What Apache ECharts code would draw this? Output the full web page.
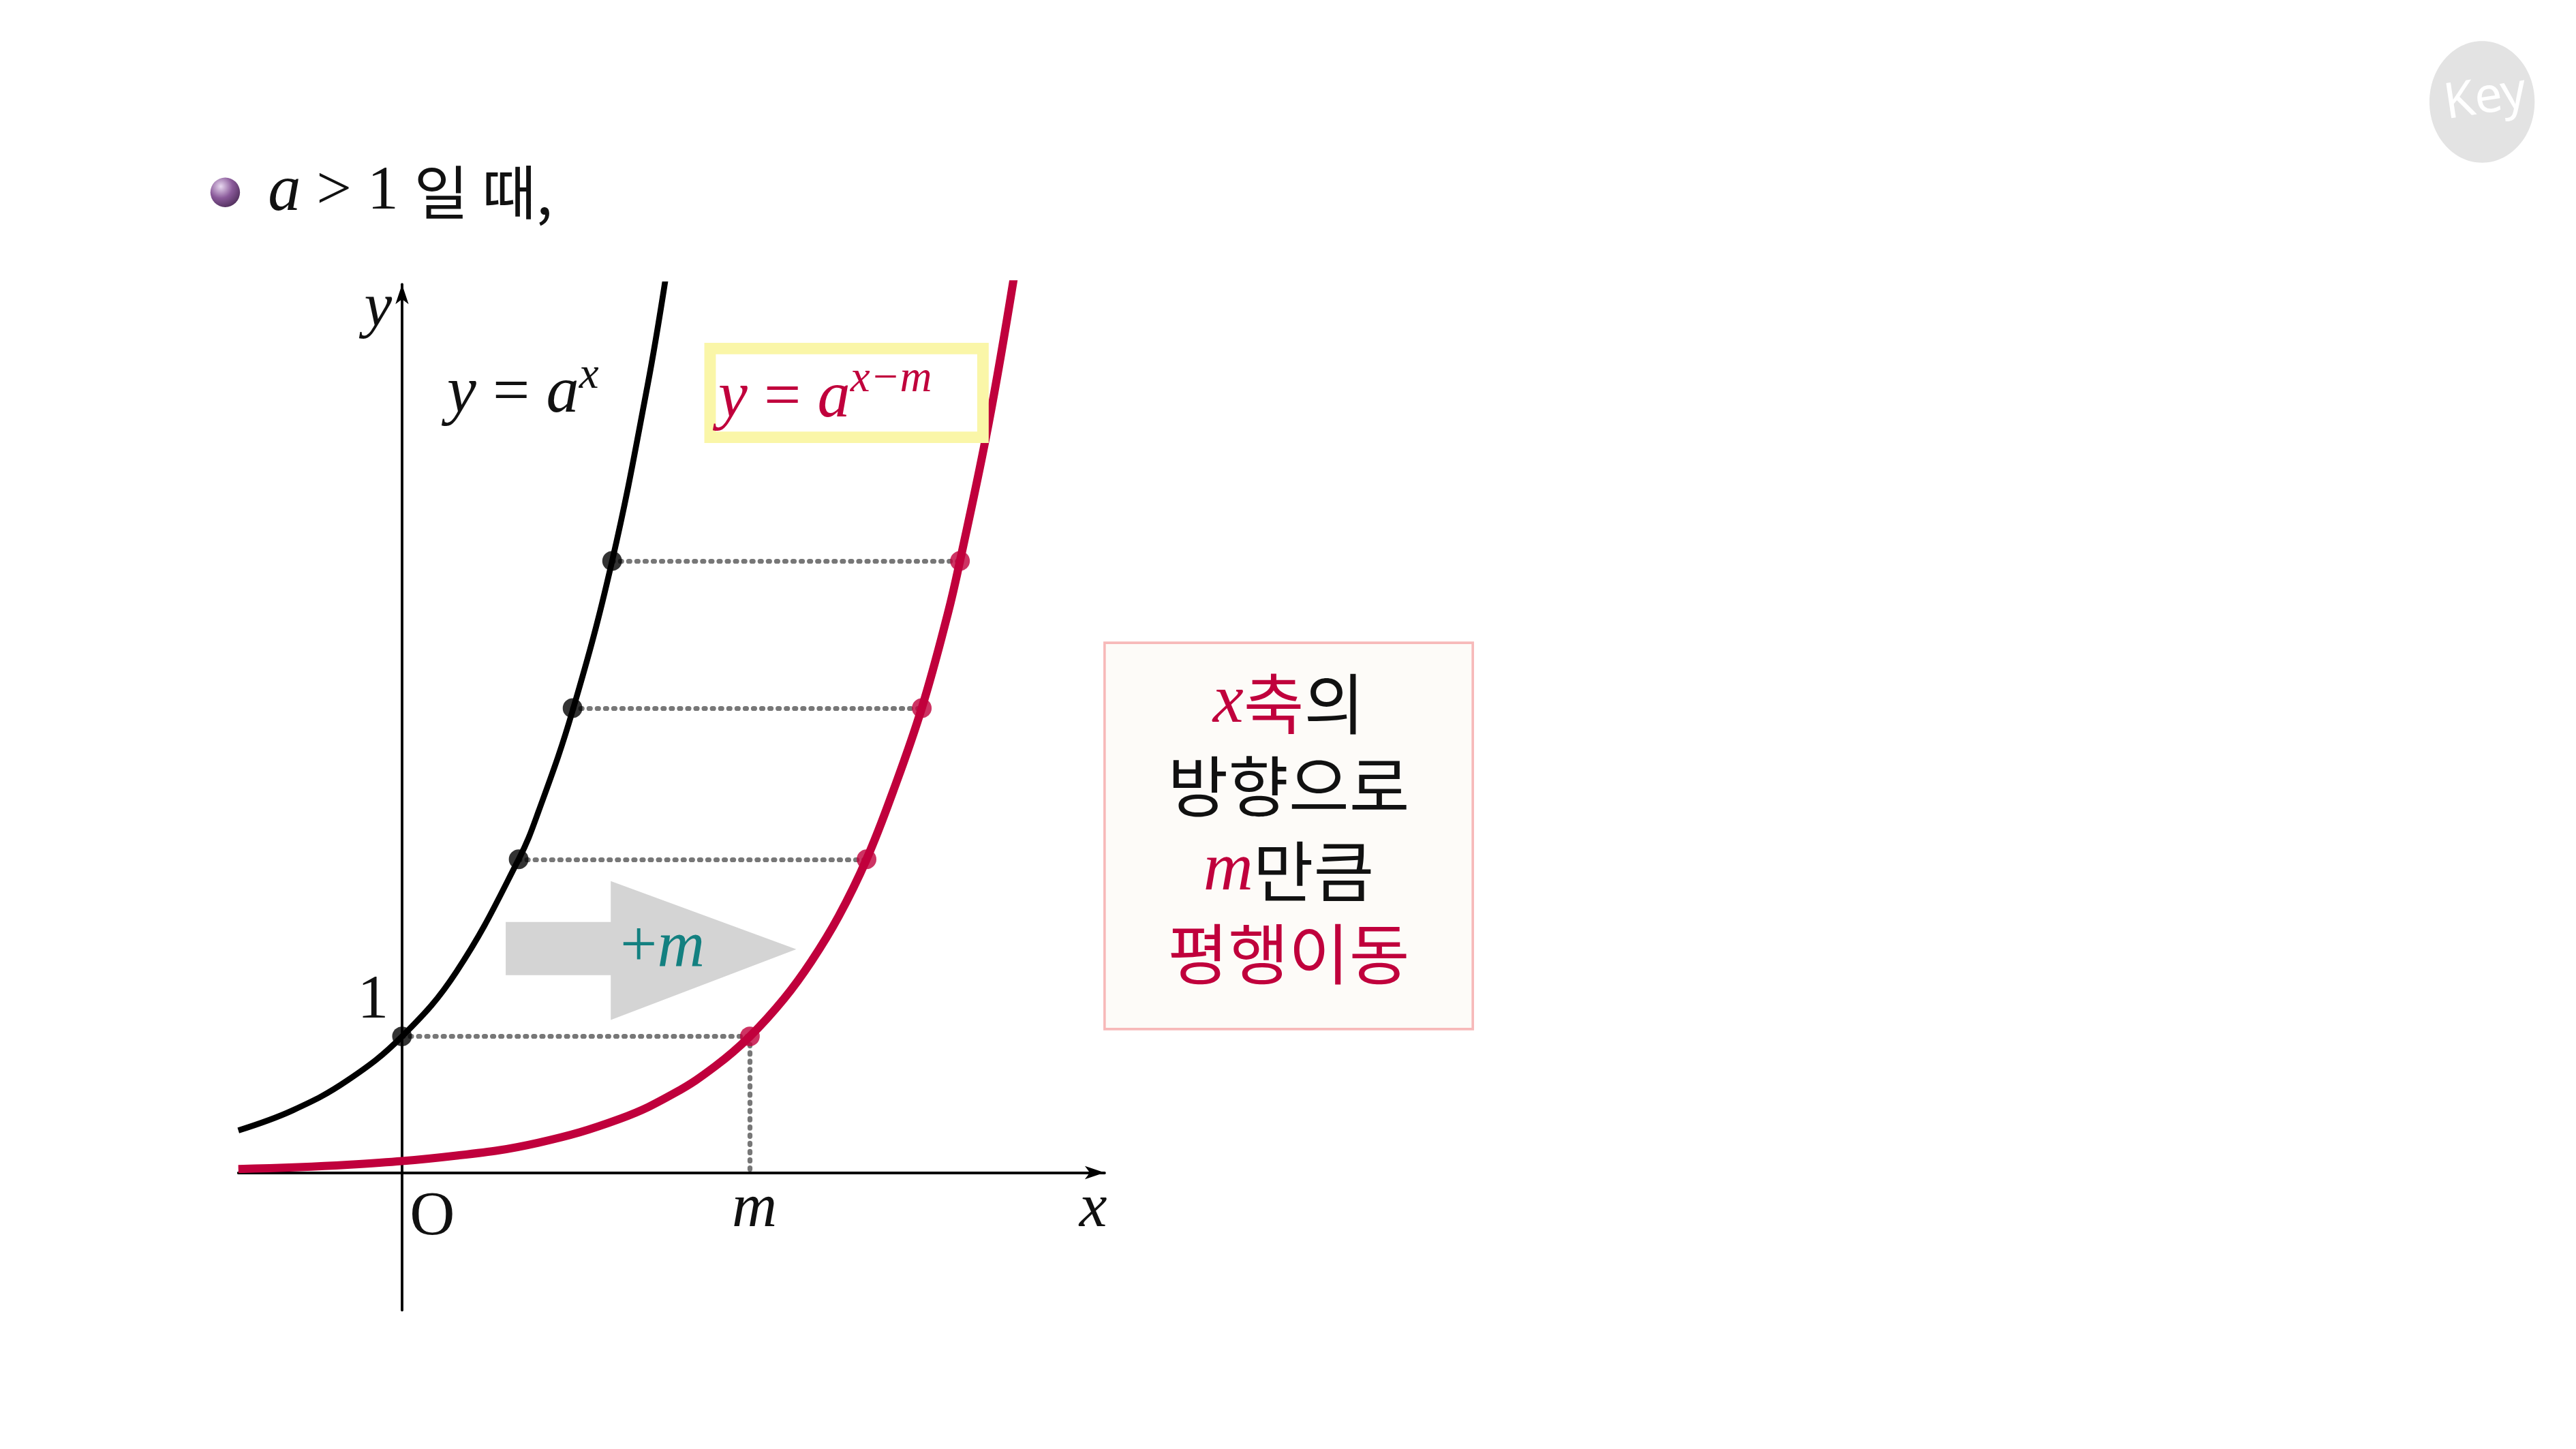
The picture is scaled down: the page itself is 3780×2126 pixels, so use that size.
<!DOCTYPE html>
<html><head><meta charset="utf-8">
<script src="https://cdn.jsdelivr.net/npm/echarts@6/dist/echarts.min.js"></script>
<style>html,body{margin:0;background:#fff}#c{width:3780px;height:2126px}</style>
</head><body><div id="c"></div>
<script>
// y = a^x samples (x, y)
const blackCurve = [[-1.2,0.31],[-0.8,0.458],[-0.4,0.677],[0,1],[0.4,1.477],[0.855,2.3],[1.0,2.65],[1.25,3.39],[1.54,4.49],[1.8,5.78],[1.93,6.55]];
// y = a^(x-m) samples
const redCurve = [[-1.2,0.026],[-0.4,0.057],[0.4,0.125],[1.0,0.22],[1.6,0.396],[2.0,0.585],[2.3,0.784],[2.55,1],[2.8,1.276],[3.0,1.55],[3.2,1.88],[3.405,2.3],[3.6,2.8],[3.81,3.41],[4.0,4.1],[4.09,4.49],[4.3,5.5],[4.49,6.6]];
const blackDots = [[0,1],[0.855,2.3],[1.25,3.41],[1.54,4.49]];
const redDots = [[2.55,1],[3.405,2.3],[3.81,3.41],[4.09,4.49]];
const mValue = 2.55;
const arrowShape = [[0.76,1.84],[1.53,1.84],[1.53,2.14],[2.89,1.64],[1.53,1.12],[1.53,1.45],[0.76,1.45]];

const S = 2.412;
const RED = '#c0003c';
const chart = echarts.init(document.getElementById('c'));
const dotted = [];
blackDots.forEach((p,i)=>dotted.push([p, redDots[i]]));
dotted.push([[mValue,1],[mValue,0]]);
const serif = 'Liberation Serif';
function T(x,y,text,size,italic){return {type:'text',x:x*S,y:y*S,style:{text:text,fontSize:size*S,fill:'#111',fontFamily:serif,fontStyle:italic?'italic':'normal',align:'center',verticalAlign:'middle'}};}
chart.setOption({
  animation:false,
  grid:{left:145*S,right:3780-672*S,top:173*S,bottom:2126-797*S},
  xAxis:{type:'value',min:-1.2,max:5.15,axisLine:{onZero:true,lineStyle:{color:'#000',width:1.6*S},symbol:['none','arrow'],symbolSize:[6*S,12*S]},axisTick:{show:false},axisLabel:{show:false},splitLine:{show:false}},
  yAxis:{type:'value',min:-1.01,max:6.52,axisLine:{onZero:true,lineStyle:{color:'#000',width:1.6*S},symbol:['none','arrow'],symbolSize:[6*S,12*S]},axisTick:{show:false},axisLabel:{show:false},splitLine:{show:false}},
  series:[
    {type:'custom',renderItem:(params,api)=>{const pts=arrowShape.map(p=>api.coord(p));return {type:'polygon',shape:{points:pts},style:{fill:'#d4d4d4'}};},data:[[0,0]],z:1},
    {type:'lines',coordinateSystem:'cartesian2d',data:dotted.map(c=>({coords:c})),lineStyle:{color:'#777',width:3*S,type:[0.8*S,4.2*S],opacity:1,cap:'round'},z:2},
    {type:'line',data:blackCurve,smooth:0.4,symbol:'none',lineStyle:{color:'#000',width:3.6*S},z:3},
    {type:'line',data:redCurve,smooth:0.4,symbol:'none',lineStyle:{color:RED,width:5*S},z:3},
    {type:'scatter',data:blackDots,symbolSize:12*S,itemStyle:{color:'#000'},z:5},
    {type:'scatter',data:redDots,symbolSize:12*S,itemStyle:{color:RED},z:5}
  ],
  graphic:[
    {type:'circle',shape:{cx:137*S,cy:117*S,r:9*S},style:{fill:new echarts.graphic.RadialGradient(0.35,0.3,0.8,[{offset:0,color:'#e8d8f0'},{offset:0.5,color:'#8a5a9a'},{offset:1,color:'#4a2a55'}])}},
    {type:'text',x:163*S,y:117*S,style:{text:'{i|a} > 1 {k|일 때,}',fontSize:38*S,fontFamily:serif,fill:'#111',verticalAlign:'middle',rich:{i:{fontStyle:'italic',fontSize:40*S,fontFamily:serif},k:{fontFamily:'Noto Sans CJK KR',fontSize:36*S}}}},
    {type:'ellipse',shape:{cx:1510*S,cy:62*S,rx:32*S,ry:37*S},style:{fill:'#e3e3e3'}},
    {type:'text',x:1512*S,y:60*S,rotation:0.15,style:{text:'Key',fontSize:30*S,fontFamily:'Noto Sans',fill:'#fff',align:'center',verticalAlign:'middle'}},
    T(230,188,'y',38,true),
    T(665,736,'x',38,true),
    T(263,741,'O',38,false),
    T(459,736,'m',38,true),
    T(227,609,'1',38,false),
    {type:'text',x:272*S,y:240*S,style:{text:'{i|y} = {i|a}{s|x}',fontSize:40*S,fontFamily:serif,fill:'#111',verticalAlign:'middle',rich:{i:{fontStyle:'italic',fontSize:40*S,fontFamily:serif},s:{fontStyle:'italic',fontSize:27*S,fontFamily:serif,padding:[0,0,22*S,0]}}}},
    {type:'rect',shape:{x:432*S,y:212*S,width:166*S,height:54*S},style:{fill:'#fff',stroke:'#faf6a8',lineWidth:7*S},z:10},
    {type:'text',x:437*S,y:243*S,z:11,style:{text:'{i|y} = {i|a}{s|x−m}',fontSize:40*S,fontFamily:serif,fill:RED,verticalAlign:'middle',rich:{i:{fontStyle:'italic',fontSize:40*S,fontFamily:serif},s:{fontStyle:'italic',fontSize:27*S,fontFamily:serif,padding:[0,0,24*S,0]}}}},
    {type:'text',x:403*S,y:577*S,z:11,style:{text:'+{i|m}',fontSize:40*S,fontFamily:serif,fill:'#138080',align:'center',verticalAlign:'middle',rich:{i:{fontStyle:'italic',fontSize:40*S,fontFamily:serif,fill:'#138080'}}}},
    {type:'rect',shape:{x:672*S,y:391*S,width:224*S,height:235*S},style:{fill:'#fdfbf8',stroke:'#f7b9b9',lineWidth:1.5*S}},
    {type:'text',x:784*S,y:428*S,style:{text:'{r|x}{k|축}의',fontSize:40*S,fontFamily:'Noto Sans CJK KR',fill:'#111',align:'center',verticalAlign:'middle',rich:{r:{fontStyle:'italic',fontFamily:serif,fontSize:42*S,fill:RED},k:{fontFamily:'Noto Sans CJK KR',fontSize:40*S,fill:RED}}}},
    {type:'text',x:784*S,y:478*S,style:{text:'방향으로',fontSize:40*S,fontFamily:'Noto Sans CJK KR',fill:'#111',align:'center',verticalAlign:'middle'}},
    {type:'text',x:784*S,y:530*S,style:{text:'{r|m}만큼',fontSize:40*S,fontFamily:'Noto Sans CJK KR',fill:'#111',align:'center',verticalAlign:'middle',rich:{r:{fontStyle:'italic',fontFamily:serif,fontSize:42*S,fill:RED}}}},
    {type:'text',x:784*S,y:580*S,style:{text:'평행이동',fontSize:40*S,fontFamily:'Noto Sans CJK KR',fill:RED,align:'center',verticalAlign:'middle'}}
  ]
});
</script></body></html>
